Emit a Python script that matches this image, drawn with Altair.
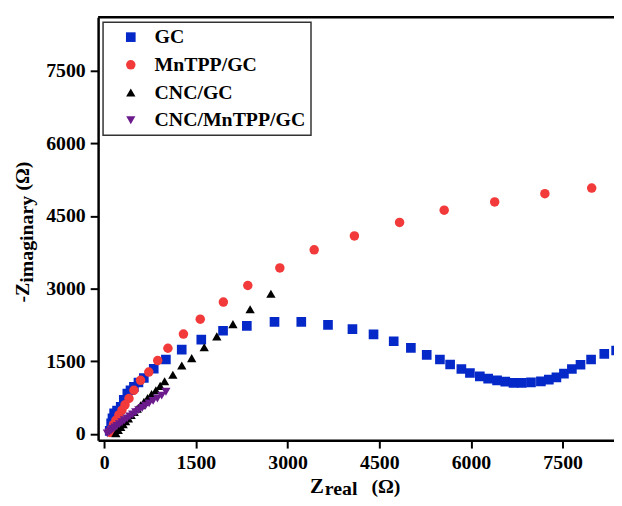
import altair as alt
import pandas as pd

series = ["GC", "MnTPP/GC", "CNC/GC", "CNC/MnTPP/GC"]
colors = ["#0528C8", "#F23A3A", "#000000", "#6B1A8C"]
shapes = ["square", "circle", "triangle-up", "triangle-down"]
sizes = [95, 85, 115, 110]

gc_x = [90, 113, 135, 162, 210, 270, 320, 378, 430, 486, 560, 648, 810, 1009, 1268, 1588, 1944, 2333, 2786, 3224,
        3661, 4061, 4406, 4736, 5017, 5276, 5492, 5659, 5843, 5983, 6145, 6281, 6427, 6561, 6696, 6831, 6982,
        7144, 7274, 7398, 7521, 7651, 7792, 7965, 8181, 8375]
gc_y = [60, 219, 321, 424, 480, 560, 700, 833, 900, 970, 1060, 1154, 1344, 1535, 1739, 1944, 2128, 2230, 2312, 2312,
        2251, 2163, 2054, 1911, 1774, 1631, 1535, 1432, 1338, 1256, 1187, 1140, 1105, 1078, 1052, 1052, 1064,
        1084, 1119, 1166, 1242, 1338, 1426, 1535, 1651, 1720]

mn_x = [95, 115, 150, 190, 240, 290, 340, 405, 486, 594, 729, 875, 1042, 1296, 1571, 1949, 2349, 2873, 3435,
        4093, 4832, 5562, 6388, 7209, 7975]
mn_y = [30, 90, 190, 280, 390, 490, 600, 730, 900, 1105, 1276, 1514, 1767, 2060, 2367, 2721, 3063, 3425, 3800,
        4086, 4366, 4618, 4788, 4959, 5074]

cn_x = [190, 230, 270, 310, 350, 395, 440, 490, 540, 595, 650, 710, 775, 845, 915, 988, 1123, 1269, 1431, 1636,
        1842, 2106, 2387, 2727]
cn_y = [14, 80, 140, 200, 260, 320, 390, 450, 520, 590, 660, 740, 820, 900, 990, 1085, 1221, 1412, 1563, 1788,
        2013, 2265, 2572, 2893]

cm_x = [50, 80, 110, 140, 175, 210, 250, 290, 330, 375, 420, 465, 515, 565, 620, 675, 735, 800, 870, 940, 1010]
cm_y = [10, 40, 70, 100, 130, 165, 200, 240, 280, 320, 360, 400, 445, 490, 535, 580, 630, 680, 730, 790, 870]

x_ticks = [0, 1500, 3000, 4500, 6000, 7500]
y_ticks = [0, 1500, 3000, 4500, 6000, 7500]

rows = []
for name, xs, ys in [("GC", gc_x, gc_y), ("MnTPP/GC", mn_x, mn_y), ("CNC/GC", cn_x, cn_y),
                     ("CNC/MnTPP/GC", cm_x, cm_y)]:
    for a, b in zip(xs, ys):
        rows.append({"series": name, "zr": a, "zi": b})
df = pd.DataFrame(rows)

W, H = 521, 427
FONT = "Liberation Serif"

points = alt.Chart(df).mark_point(filled=True, opacity=1, clip=True).encode(
    x=alt.X("zr:Q", scale=alt.Scale(domain=[-100, 8340], nice=False, zero=False),
            axis=alt.Axis(values=x_ticks, title=None, grid=False, format="d")),
    y=alt.Y("zi:Q", scale=alt.Scale(domain=[-130, 8600], nice=False, zero=False),
            axis=alt.Axis(values=y_ticks, title=None, grid=False, format="d")),
    color=alt.Color("series:N", scale=alt.Scale(domain=series, range=colors),
                    legend=alt.Legend(title=None, orient="top-left")),
    shape=alt.Shape("series:N", scale=alt.Scale(domain=series, range=shapes)),
    size=alt.Size("series:N", scale=alt.Scale(domain=series, range=sizes)),
)

one = alt.Data(values=[{}])
top_line = alt.Chart(one).mark_rule(color="black", strokeWidth=2.5).encode(
    x=alt.value(0), x2=alt.value(W), y=alt.value(0))

def txt(t, x, y, size, align="left", angle=0, baseline="alphabetic"):
    return alt.Chart(one).mark_text(text=t, font=FONT, fontWeight="bold", fontSize=size, align=align,
                                    baseline=baseline, angle=angle, color="black").encode(
        x=alt.value(x), y=alt.value(y))

titles = [
    txt("Z", 214, 480, 21),
    txt("real", 229, 482, 20),
    txt("(\u03a9)", 276, 480, 20),
    txt("-Z", -70, 288, 20, angle=270),
    txt("imaginary", -66, 268, 20, angle=270),
    txt("(\u03a9)", -70, 175, 20, angle=270),
]

chart = alt.layer(points, top_line, *titles).properties(
    width=W, height=H,
    padding={"left": 91, "top": 7, "right": 0, "bottom": 56},
    autosize=alt.AutoSizeParams(type="none"),
).configure_view(stroke=None).configure_axis(
    domainColor="black", domainWidth=2.5, tickColor="black", tickWidth=2, tickSize=8,
    labelFont=FONT, labelFontWeight="bold", labelFontSize=20, labelColor="black", labelPadding=5,
).configure_legend(
    labelFont=FONT, labelFontWeight="bold", labelFontSize=20, labelColor="black",
    strokeColor="#333333", strokeWidth=1.5, padding=5, offset=5, symbolOffset=13,
    labelOffset=14, rowPadding=8, fillColor="white",
)

chart.save("out.html", embed_options={"renderer": "svg", "actions": False})
